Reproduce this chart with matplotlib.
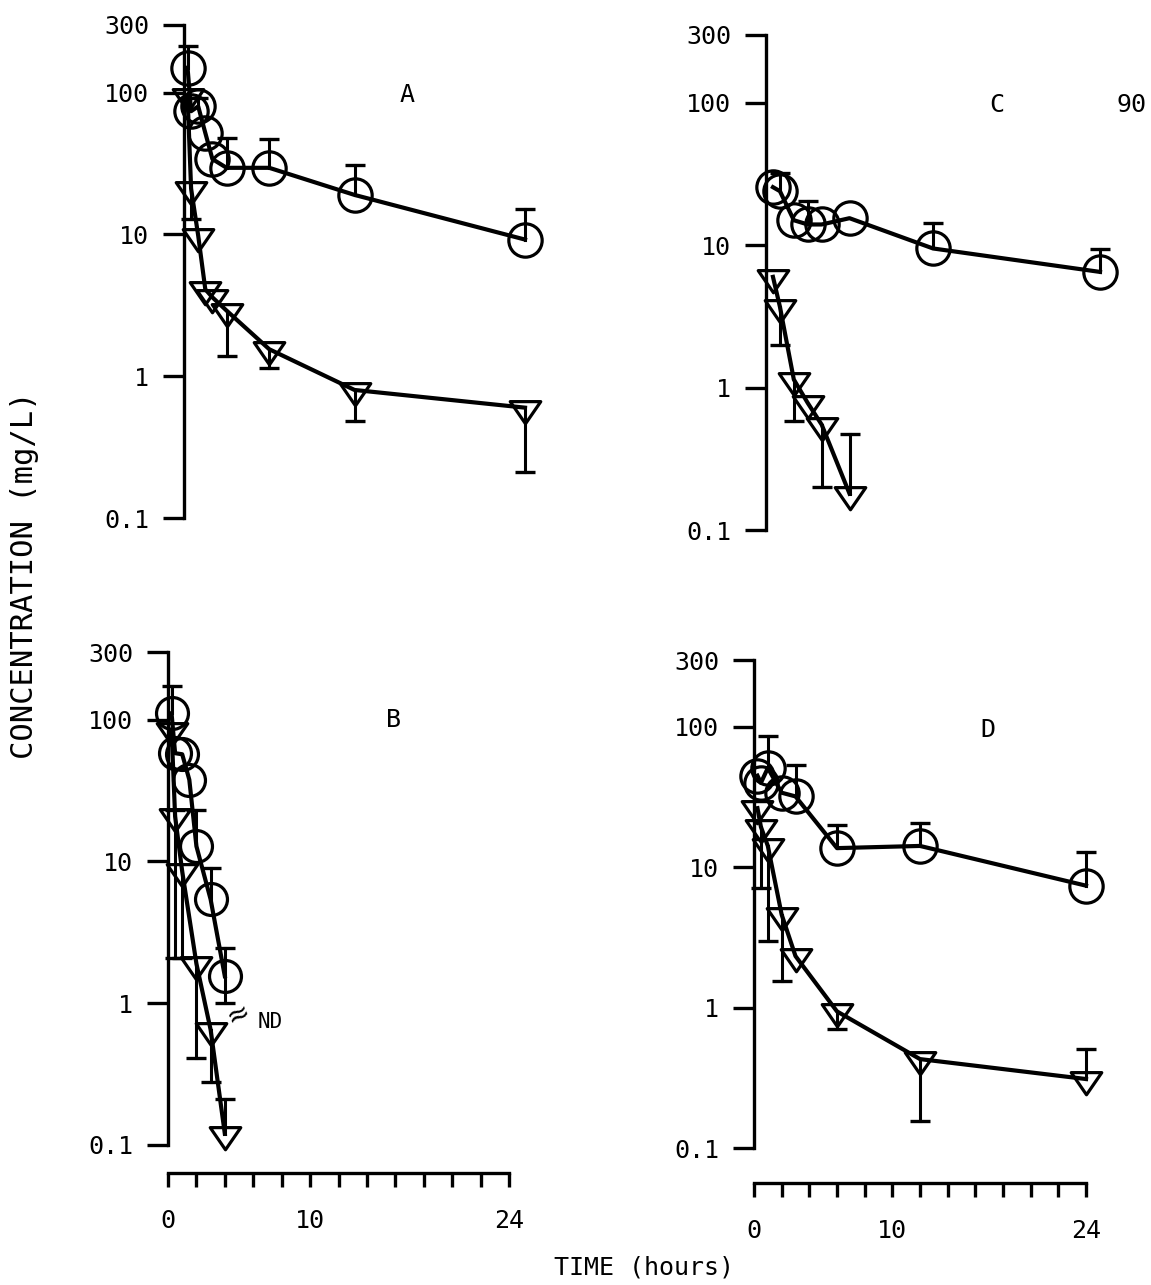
import numpy as np
import matplotlib
matplotlib.use('Agg')
import matplotlib.pyplot as plt
from matplotlib.path import Path
from matplotlib.ticker import FixedLocator, NullLocator, FixedFormatter

plt.rcParams['font.family'] = ['DejaVu Sans Mono', 'DejaVu Sans']

# ---------------- data ----------------
x_ticks = list(range(0, 25, 2))
x_ticklabels = ['0', '', '', '', '', '10', '', '', '', '', '', '', '24']
y_ticks = [0.1, 1, 10, 100, 300]
y_ticklabels = ['0.1', '1', '10', '100', '300']

# Panel A
A_circ_t = [0.25, 0.5, 1, 1.5, 2, 3, 6, 12, 24]
A_circ_v = [150, 74, 80, 52, 34, 29.5, 29.5, 19, 9.2]
A_circ_hi = [215, None, 92, None, None, 48, 47, 31, 15]
A_circ_lo = [None, None, None, None, None, None, None, None, None]
A_tri_t = [0.25, 0.5, 1, 1.5, 2, 3, 6, 12, 24]
A_tri_v = [94, 21, 9.8, 4.1, 3.6, 2.9, 1.55, 0.8, 0.6]
A_tri_hi = [None, None, None, None, None, None, None, None, None]
A_tri_lo = [None, 12.8, None, None, None, 1.38, 1.14, 0.48, 0.21]

# Panel B
B_circ_t = [0.25, 0.5, 1, 1.5, 2, 3, 4]
B_circ_v = [111, 58, 57, 37.7, 12.8, 5.4, 1.55]
B_circ_hi = [172, None, None, None, 23, 9.0, 2.44]
B_circ_lo = [None, None, None, None, None, None, 1.0]
B_tri_t = [0.25, 0.5, 1, 2, 3, 4]
B_tri_v = [85, 20.8, 8.5, 1.9, 0.65, 0.12]
B_tri_hi = [None, 23, None, None, None, 0.21]
B_tri_lo = [None, 2.1, 2.1, 0.41, 0.28, None]

# Panel C
C_circ_t = [0.5, 1, 2, 3, 4, 6, 12, 24]
C_circ_v = [25.6, 24, 15, 14, 14, 15.5, 9.5, 6.5]
C_circ_hi = [None, 32, None, 20.6, None, None, 14.3, 9.4]
C_circ_lo = [None, None, None, None, None, None, None, None]
C_tri_t = [0.5, 1, 2, 3, 4, 6]
C_tri_v = [6.0, 3.7, 1.14, 0.78, 0.55, 0.18]
C_tri_hi = [None, None, None, None, None, 0.47]
C_tri_lo = [None, 2.0, 0.58, None, 0.2, None]

# Panel D
D_circ_t = [0.25, 0.5, 1, 2, 3, 6, 12, 24]
D_circ_v = [45, 40, 51, 34, 32, 13.7, 14.2, 7.4]
D_circ_hi = [None, None, 86, None, 54, 20, 20.6, 12.9]
D_circ_lo = [None, None, None, None, None, None, None, None]
D_tri_t = [0.25, 0.5, 1, 2, 3, 6, 12, 24]
D_tri_v = [26.4, 19.4, 14.2, 4.6, 2.33, 0.94, 0.43, 0.31]
D_tri_hi = [None, None, None, None, None, None, None, 0.51]
D_tri_lo = [None, 7.1, 3.0, 1.55, None, 0.71, 0.155, None]

# ---------------- figure ----------------
W, H = 1151, 1285
fig = plt.figure(figsize=(W / 100, H / 100), dpi=100)
fig.patch.set_facecolor('white')


def add_axes_px(left, right, top, bottom):
    return fig.add_axes([left / W, 1 - bottom / H, (right - left) / W, (bottom - top) / H])


axA = add_axes_px(184, 525, 25, 518)
axB = add_axes_px(168, 509, 652, 1145)
axC = add_axes_px(766, 1100, 35, 530)
axD = add_axes_px(754, 1086, 660, 1148)

tri_marker = Path([(-1, 0.45), (1, 0.45), (0, -1), (-1, 0.45)],
                  [Path.MOVETO, Path.LINETO, Path.LINETO, Path.CLOSEPOLY])


def style(ax, show_x, outward_px=30):
    ax.set_yscale('log')
    ax.set_ylim(0.1, 300)
    ax.set_xlim(0, 24)
    ax.yaxis.set_major_locator(FixedLocator(y_ticks))
    ax.yaxis.set_major_formatter(FixedFormatter(y_ticklabels))
    ax.yaxis.set_minor_locator(NullLocator())
    for s in ['top', 'right']:
        ax.spines[s].set_visible(False)
    ax.spines['left'].set_linewidth(2.4)
    ax.tick_params(axis='y', direction='out', length=15, width=2.4, pad=10,
                   labelsize=18)
    ax.patch.set_alpha(0)
    if show_x:
        ax.spines['bottom'].set_position(('outward', outward_px * 0.72))
        ax.spines['bottom'].set_linewidth(2.4)
        ax.xaxis.set_major_locator(FixedLocator(x_ticks))
        ax.xaxis.set_major_formatter(FixedFormatter(x_ticklabels))
        ax.xaxis.set_minor_locator(NullLocator())
        ax.tick_params(axis='x', direction='out', length=10, width=2.4, pad=16,
                       labelsize=18)
    else:
        ax.spines['bottom'].set_visible(False)
        ax.set_xticks([])


def series(ax, t, v, lo, hi, marker, ms):
    ax.plot(t, v, color='black', lw=3.0, marker=marker, ms=ms, mfc='none',
            mec='black', mew=2.3, clip_on=False, zorder=3)
    for ti, vi, l, h in zip(t, v, lo, hi):
        for b in (l, h):
            if b is not None:
                ax.plot([ti, ti], [vi, b], color='black', lw=2.2, clip_on=False, zorder=2)
                ax.plot([ti], [b], marker='_', ms=14, mew=2.4, color='black',
                        clip_on=False, zorder=2)


style(axA, False)
style(axC, False)
style(axB, True, outward_px=28)
style(axD, True, outward_px=35)

series(axA, A_circ_t, A_circ_v, A_circ_lo, A_circ_hi, 'o', 24)
series(axA, A_tri_t, A_tri_v, A_tri_lo, A_tri_hi, tri_marker, 22)
series(axB, B_circ_t, B_circ_v, B_circ_lo, B_circ_hi, 'o', 23)
series(axB, B_tri_t, B_tri_v, B_tri_lo, B_tri_hi, tri_marker, 22)
series(axC, C_circ_t, C_circ_v, C_circ_lo, C_circ_hi, 'o', 24)
series(axC, C_tri_t, C_tri_v, C_tri_lo, C_tri_hi, tri_marker, 22)
series(axD, D_circ_t, D_circ_v, D_circ_lo, D_circ_hi, 'o', 24)
series(axD, D_tri_t, D_tri_v, D_tri_lo, D_tri_hi, tri_marker, 22)


def ftext(x, y, s, **kw):
    fig.text(x / W, 1 - y / H, s, ha='center', va='center', **kw)


ftext(407, 95, 'A', fontsize=18)
ftext(393, 720, 'B', fontsize=18)
ftext(997, 105, 'C', fontsize=18)
ftext(1132, 105, '90', fontsize=18)
ftext(988, 730, 'D', fontsize=18)
ftext(270, 1022, 'ND', fontsize=15)
ftext(238, 1014, '\u2248', fontsize=20, rotation=25, family=['DejaVu Sans'])
ftext(644, 1268, 'TIME (hours)', fontsize=18)
ftext(25, 575, 'CONCENTRATION (mg/L)', fontsize=22, rotation=90)

fig.savefig('out.png', dpi=100, facecolor='white')
